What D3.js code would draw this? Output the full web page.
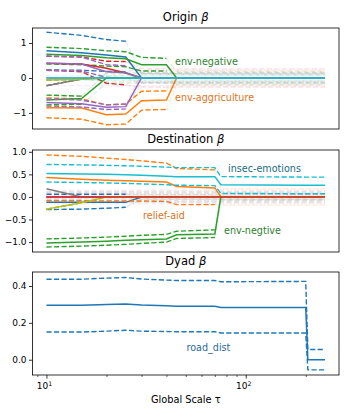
<!DOCTYPE html>
<html><head><meta charset="utf-8">
<script src="https://cdn.jsdelivr.net/npm/d3@7"></script>
<style>body{margin:0;background:#fff} svg{display:block} text{font-family:"DejaVu Sans",sans-serif;fill:#000}</style>
</head><body><svg id="chart" width="350" height="420"></svg>
<script>
// ---------------- DATA ----------------
const tau = [10, 15, 20, 25, 30, 40, 45, 70, 75, 200, 205, 250];

// Origin beta
const originKeys = ["blue","orange","green","red","purple","pink","gray","olive","green","purple","cyan"];
const originMean = [
  [0.78,0.72,0.66,0.60,0,0,0,0,0,0,0,0],
  [-0.85,-0.86,-1.05,-1.03,-0.65,-0.63,0,0,0,0,0,0],
  [0.68,0.64,0.58,0.55,0.38,0.38,0,0,0,0,0,0],
  [0.42,0.40,0.28,0.14,0,0,0,0,0,0,0,0],
  [0.42,0.40,0.18,0.15,0,0,0,0,0,0,0,0],
  [0,0,0,0,0,0,0,0,0,0,0,0],
  [-0.22,-0.03,0,0,0,0,0,0,0,0,0,0],
  [-0.06,-0.04,0,0,0,0,0,0,0,0,0,0],
  [-0.63,-0.59,0,0,0,0,0,0,0,0,0,0],
  [-0.70,-0.74,-0.84,-0.82,0,0,0,0,0,0,0,0],
  [0,0,0,0,0,0,0,0,0,0,0,0]
];
const originHi = [
  [1.31,1.22,1.10,1.05,0.12,0.11,0.11,0.10,0.10,0.10,0.10,0.10],
  [-0.57,-0.60,-0.77,-0.75,-0.38,-0.37,0.20,0.20,0.20,0.20,0.20,0.20],
  [0.88,0.84,0.78,0.75,0.59,0.56,0.18,0.18,0.18,0.18,0.18,0.18],
  [0.62,0.60,0.48,0.47,0.27,0.26,0.26,0.26,0.26,0.26,0.26,0.26],
  [0.63,0.60,0.38,0.35,0.15,0.15,0.15,0.15,0.15,0.15,0.15,0.15],
  [0.22,0.22,0.22,0.22,0.22,0.22,0.22,0.22,0.22,0.22,0.22,0.22],
  [-0.22,-0.03,0.12,0.12,0.12,0.12,0.12,0.12,0.12,0.12,0.12,0.12],
  [-0.06,-0.04,0.08,0.08,0.08,0.08,0.08,0.08,0.08,0.08,0.08,0.08],
  [-0.49,-0.52,0.15,0.15,0.15,0.15,0.15,0.15,0.15,0.15,0.15,0.15],
  [-0.60,-0.63,-0.77,-0.74,0.12,0.12,0.12,0.12,0.12,0.12,0.12,0.12],
  [0.06,0.06,0.06,0.06,0.06,0.06,0.06,0.06,0.06,0.06,0.06,0.06]
];
const originLo = [
  [0.23,0.22,0.19,0.17,-0.12,-0.11,-0.11,-0.10,-0.10,-0.10,-0.10,-0.10],
  [-1.14,-1.18,-1.34,-1.32,-0.92,-0.90,-0.20,-0.20,-0.20,-0.20,-0.20,-0.20],
  [0.40,0.38,0.34,0.32,0.20,0.20,-0.18,-0.18,-0.18,-0.18,-0.18,-0.18],
  [0.22,0.18,-0.15,-0.20,-0.26,-0.26,-0.26,-0.26,-0.26,-0.26,-0.26,-0.26],
  [0.22,0.20,0.02,0.00,-0.15,-0.15,-0.15,-0.15,-0.15,-0.15,-0.15,-0.15],
  [-0.22,-0.22,-0.22,-0.22,-0.22,-0.22,-0.22,-0.22,-0.22,-0.22,-0.22,-0.22],
  [-0.22,-0.03,-0.12,-0.12,-0.12,-0.12,-0.12,-0.12,-0.12,-0.12,-0.12,-0.12],
  [-0.06,-0.04,-0.08,-0.08,-0.08,-0.08,-0.08,-0.08,-0.08,-0.08,-0.08,-0.08],
  [-0.77,-0.75,-0.15,-0.15,-0.15,-0.15,-0.15,-0.15,-0.15,-0.15,-0.15,-0.15],
  [-0.80,-0.83,-0.90,-0.89,-0.12,-0.12,-0.12,-0.12,-0.12,-0.12,-0.12,-0.12],
  [-0.06,-0.06,-0.06,-0.06,-0.06,-0.06,-0.06,-0.06,-0.06,-0.06,-0.06,-0.06]
];

// Destination beta
const destKeys = ["blue","orange","green","purple","brown","pink","gray","olive","cyan","red"];
const destMean = [
  [-0.12,-0.12,-0.12,-0.12,0,0,0,0,0,0,0,0],
  [0.43,0.39,0.37,0.36,0.35,0.33,0.23,0.20,0,0,0,0],
  [-1.02,-1.00,-0.98,-0.96,-0.95,-0.93,-0.84,-0.82,0,0,0,0],
  [0,0,0,0,0,0,0,0,0,0,0,0],
  [0,0,0,0,0,0,0,0,0,0,0,0],
  [0,0,0,0,0,0,0,0,0,0,0,0],
  [0.18,0,0,0,0,0,0,0,0,0,0,0],
  [-0.27,-0.13,0,0,0,0,0,0,0,0,0,0],
  [0.52,0.51,0.50,0.49,0.48,0.46,0.45,0.45,0.27,0.26,0.26,0.26],
  [0,0,0,0,0,0,0,0,0,0,0,0]
];
const destHi = [
  [0.06,0.06,0.06,0.06,0.05,0.05,0.05,0.05,0.05,0.05,0.05,0.05],
  [0.93,0.90,0.86,0.83,0.80,0.75,0.63,0.60,0.18,0.18,0.18,0.18],
  [-0.93,-0.91,-0.89,-0.87,-0.85,-0.83,-0.76,-0.73,0.07,0.07,0.07,0.07],
  [0.10,0.10,0.10,0.10,0.10,0.10,0.10,0.10,0.10,0.10,0.10,0.10],
  [0.12,0.12,0.12,0.12,0.12,0.12,0.12,0.12,0.12,0.12,0.12,0.12],
  [0.15,0.15,0.15,0.15,0.15,0.15,0.15,0.15,0.15,0.15,0.15,0.15],
  [0.08,0.08,0.08,0.08,0.08,0.08,0.08,0.08,0.08,0.08,0.08,0.08],
  [-0.27,-0.13,0.06,0.06,0.06,0.06,0.06,0.06,0.06,0.06,0.06,0.06],
  [0.72,0.71,0.70,0.69,0.68,0.66,0.65,0.65,0.45,0.44,0.44,0.44],
  [0.04,0.04,0.04,0.04,0.04,0.04,0.04,0.04,0.04,0.04,0.04,0.04]
];
const destLo = [
  [-0.28,-0.27,-0.25,-0.23,-0.05,-0.05,-0.05,-0.05,-0.05,-0.05,-0.05,-0.05],
  [-0.08,-0.08,-0.09,-0.09,-0.09,-0.10,-0.17,-0.17,-0.18,-0.18,-0.18,-0.18],
  [-1.11,-1.09,-1.07,-1.05,-1.03,-1.00,-0.92,-0.90,-0.07,-0.07,-0.07,-0.07],
  [-0.10,-0.10,-0.10,-0.10,-0.10,-0.10,-0.10,-0.10,-0.10,-0.10,-0.10,-0.10],
  [-0.12,-0.12,-0.12,-0.12,-0.12,-0.12,-0.12,-0.12,-0.12,-0.12,-0.12,-0.12],
  [-0.15,-0.15,-0.15,-0.15,-0.15,-0.15,-0.15,-0.15,-0.15,-0.15,-0.15,-0.15],
  [-0.08,-0.08,-0.08,-0.08,-0.08,-0.08,-0.08,-0.08,-0.08,-0.08,-0.08,-0.08],
  [-0.27,-0.13,-0.06,-0.06,-0.06,-0.06,-0.06,-0.06,-0.06,-0.06,-0.06,-0.06],
  [0.33,0.32,0.31,0.30,0.29,0.27,0.26,0.25,0.08,0.07,0.07,0.07],
  [-0.04,-0.04,-0.04,-0.04,-0.04,-0.04,-0.04,-0.04,-0.04,-0.04,-0.04,-0.04]
];

// Dyad beta
const dyadKeys = ["blue"];
const dyadMean = [[0.295,0.295,0.300,0.302,0.297,0.293,0.290,0.290,0.283,0.283,0,0]];
const dyadHi   = [[0.437,0.437,0.443,0.446,0.438,0.432,0.430,0.430,0.423,0.425,0.055,0.055]];
const dyadLo   = [[0.150,0.150,0.155,0.160,0.155,0.153,0.152,0.152,0.145,0.145,-0.055,-0.055]];

const originTicks = [-1, 0, 1];
const destTicks = [-1.0, -0.5, 0.0, 0.5, 1.0];
const dyadTicks = [0.0, 0.2, 0.4];
const xMajorTicks = [10, 100];
const xMinorTicks = [9, 20, 30, 40, 50, 60, 70, 80, 90, 200];

// ---------------- STYLE / LAYOUT ----------------
const palette = {blue:"#1f77b4", orange:"#ff7f0e", green:"#2ca02c", red:"#d62728", purple:"#9467bd",
  brown:"#8c564b", pink:"#e377c2", gray:"#7f7f7f", olive:"#bcbd22", cyan:"#17becf"};
const labelColor = {green:"#2f7f2f", orange:"#dd7418", cyan:"#216b82", blue:"#2a6a9c"};
const L = 32.5, R = 339;
const minus = s => s.replace("-", "\u2212");

const panels = [
  {title:"Origin ", top:28, bottom:129, dom:[-1.46,1.43], ticks:originTicks, fmt:d=>minus(d3.format("d")(d)),
   keys:originKeys, mean:originMean, hi:originHi, lo:originLo, fade:true, titleY:20.7,
   notes:[{t:"env-negative", x:175, y:65, c:"green"}, {t:"env-aggriculture", x:175, y:100.5, c:"orange"}]},
  {title:"Destination ", top:150, bottom:252, dom:[-1.22,1.04], ticks:destTicks, fmt:d=>minus(d3.format(".1f")(d)),
   keys:destKeys, mean:destMean, hi:destHi, lo:destLo, fade:true, titleY:143.3,
   notes:[{t:"insec-emotions", x:228, y:172.3, c:"cyan"}, {t:"relief-aid", x:143, y:219, c:"orange"}, {t:"env-negtive", x:224, y:233.5, c:"green"}]},
  {title:"Dyad ", top:272, bottom:375, dom:[-0.083,0.476], ticks:dyadTicks, fmt:d=>minus(d3.format(".1f")(d)),
   keys:dyadKeys, mean:dyadMean, hi:dyadHi, lo:dyadLo, fade:false, titleY:265,
   notes:[{t:"road_dist", x:186.5, y:351, c:"blue"}]}
];

const svg = d3.select("#chart");
const x = d3.scaleLog().domain([Math.pow(10,0.93), Math.pow(10,2.468)]).range([L, R]);

panels.forEach((p, pi) => {
  const y = d3.scaleLinear().domain(p.dom).range([p.bottom, p.top]);
  const g = svg.append("g");
  const clipId = "clip" + pi;
  svg.append("clipPath").attr("id", clipId).append("rect")
    .attr("x", L).attr("y", p.top).attr("width", R - L).attr("height", p.bottom - p.top);
  const plot = g.append("g").attr("clip-path", `url(#${clipId})`);
  const line = d3.line().x(d => x(d[0])).y(d => y(d[1]));

  p.keys.forEach((k, si) => {
    const col = palette[k];
    const m = p.mean[si];
    [p.hi[si], p.lo[si]].forEach(ci => {
      // group consecutive segments by opacity
      let runs = [];
      for (let i = 0; i < tau.length - 1; i++) {
        const op = (!p.fade || (m[i] !== 0 && m[i+1] !== 0)) ? 1 : 0.15;
        if (runs.length && runs[runs.length-1].op === op) runs[runs.length-1].pts.push([tau[i+1], ci[i+1]]);
        else runs.push({op, pts:[[tau[i], ci[i]], [tau[i+1], ci[i+1]]]});
      }
      runs.forEach(r => {
        plot.append("path").attr("d", line(r.pts)).attr("fill", "none")
          .attr("stroke", col).attr("stroke-width", 1.4).attr("stroke-dasharray", "5.2,2.3")
          .attr("stroke-opacity", r.op);
      });
    });
    plot.append("path").attr("d", line(tau.map((t, i) => [t, m[i]]))).attr("fill", "none")
      .attr("stroke", col).attr("stroke-width", 1.5);
  });

  // frame
  g.append("rect").attr("x", L).attr("y", p.top).attr("width", R - L).attr("height", p.bottom - p.top)
    .attr("fill", "none").attr("stroke", "#000").attr("stroke-width", 0.8);

  // y axis
  const ya = g.append("g").attr("transform", `translate(${L},0)`)
    .call(d3.axisLeft(y).tickValues(p.ticks).tickSize(3.5).tickPadding(2.5).tickFormat(p.fmt));
  ya.select(".domain").remove();
  ya.selectAll("line").attr("stroke-width", 0.8);
  ya.selectAll("text").attr("font-size", 9).attr("font-family", "DejaVu Sans").attr("fill", "#000");

  // title
  const tt = g.append("text").attr("x", (L + R) / 2).attr("y", p.titleY).attr("text-anchor", "middle")
    .attr("font-size", 11.5).text(p.title);
  tt.append("tspan").attr("font-style", "italic").text("\u03b2");

  // notes
  p.notes.forEach(n => {
    g.append("text").attr("x", n.x).attr("y", n.y).attr("font-size", 9.6)
      .style("fill", labelColor[n.c]).text(n.t);
  });

  if (pi === panels.length - 1) {
    const xa = g.append("g").attr("transform", `translate(0,${p.bottom})`)
      .call(d3.axisBottom(x).tickValues(xMajorTicks).tickSize(3.5).tickFormat(""));
    xa.select(".domain").remove();
    xa.selectAll("line").attr("stroke-width", 0.8);
    const xm = g.append("g").attr("transform", `translate(0,${p.bottom})`)
      .call(d3.axisBottom(x).tickValues(xMinorTicks).tickSize(2).tickFormat(""));
    xm.select(".domain").remove();
    xm.selectAll("line").attr("stroke-width", 0.6);
    xMajorTicks.forEach(v => {
      const t = g.append("text").attr("x", x(v) - 2).attr("y", p.bottom + 14.3).attr("text-anchor", "middle")
        .attr("font-size", 9).text("10");
      t.append("tspan").attr("font-size", 6.3).attr("dy", -3.6).text(String(Math.round(Math.log10(v))));
    });
    const xl = g.append("text").attr("x", (L + R) / 2).attr("y", 403).attr("text-anchor", "middle")
      .attr("font-size", 9.8).text("Global Scale ");
    xl.append("tspan").text("\u03c4");
  }
});
</script></body></html>
